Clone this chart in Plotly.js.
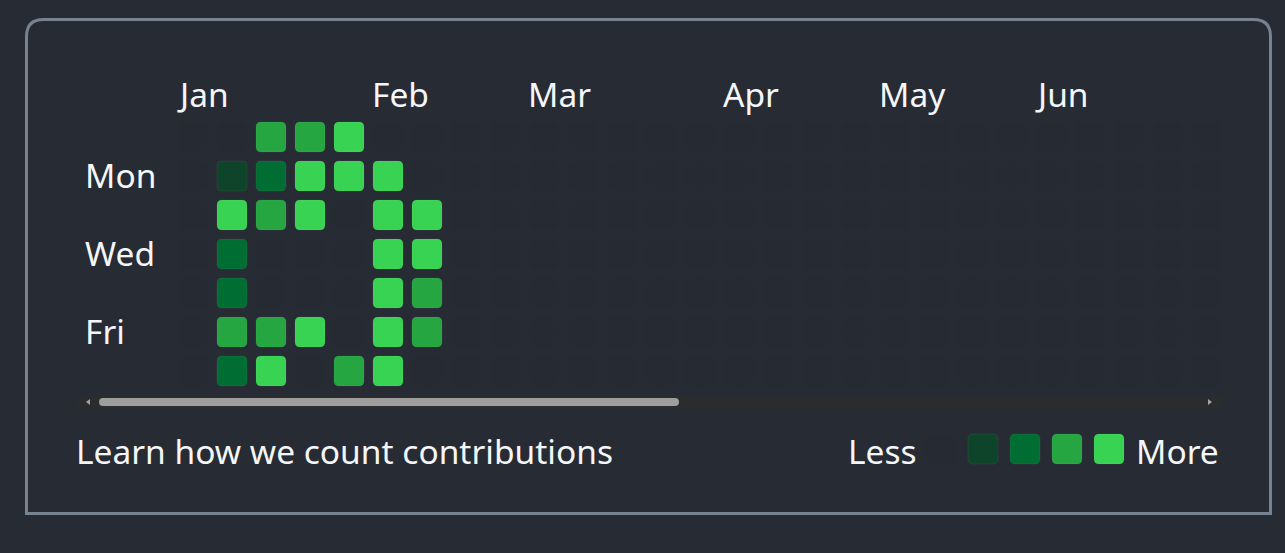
<!DOCTYPE html>
<html>
<head>
<meta charset="utf-8">
<script src="https://cdn.plot.ly/plotly-3.0.1.min.js"></script>
<style>
  html, body { margin: 0; padding: 0; background: #272b34; overflow: hidden; }
  #chart { width: 1285px; height: 553px; }
</style>
</head>
<body>
<div id="chart"></div>
<script>
// ---------------- data ----------------
const weekdays = ['Sun', 'Mon', 'Tue', 'Wed', 'Thu', 'Fri', 'Sat'];
const dayLabels = ['', 'Mon', '', 'Wed', '', 'Fri', ''];
const months = ['Jan', 'Feb', 'Mar', 'Apr', 'May', 'Jun'];
const monthStartWeek = [0, 5, 9, 14, 18, 22];
const weekCount = 27;
// contribution level (0-4) per weekday row, for the first weeks; later weeks are 0
const levelsSun = [0, 0, 3, 3, 4, 0, 0];
const levelsMon = [0, 1, 2, 4, 4, 4, 0];
const levelsTue = [0, 4, 3, 4, 0, 4, 4];
const levelsWed = [0, 2, 0, 0, 0, 4, 4];
const levelsThu = [0, 2, 0, 0, 0, 4, 3];
const levelsFri = [0, 3, 3, 4, 0, 4, 3];
const levelsSat = [0, 2, 4, 0, 3, 4, 0];
const legendLevels = [0, 1, 2, 3, 4];
const levelColors = ['rgba(0,0,0,0.015)', '#0e4429', '#006d32', '#26a641', '#39d353'];

// ---------------- geometry helpers ----------------
const W = 1285, H = 553;
const PITCH = 39;               // px per week / per day
const X0PX = 193, Y0PX = 137;   // pixel centre of week 0 / Sunday
const xRange = [-X0PX / PITCH, (W - X0PX) / PITCH];
const yRange = [(H - Y0PX) / PITCH, -Y0PX / PITCH];
const pxX = p => (p - X0PX) / PITCH;   // pixel -> data
const pxY = p => (p - Y0PX) / PITCH;

function roundRect(x0, y0, x1, y1, r) {
  return 'M' + (x0 + r) + ',' + y0 +
    ' L' + (x1 - r) + ',' + y0 + ' Q' + x1 + ',' + y0 + ' ' + x1 + ',' + (y0 + r) +
    ' L' + x1 + ',' + (y1 - r) + ' Q' + x1 + ',' + y1 + ' ' + (x1 - r) + ',' + y1 +
    ' L' + (x0 + r) + ',' + y1 + ' Q' + x0 + ',' + y1 + ' ' + x0 + ',' + (y1 - r) +
    ' L' + x0 + ',' + (y0 + r) + ' Q' + x0 + ',' + y0 + ' ' + (x0 + r) + ',' + y0 + ' Z';
}

const rows = [levelsSun, levelsMon, levelsTue, levelsWed, levelsThu, levelsFri, levelsSat];
const HALF = 15 / PITCH, RAD = 5 / PITCH;
const shapes = [];
const hx = [], hy = [], ht = [];
const emptyLine = 'rgba(255,255,255,0.012)';
const fullLine = 'rgba(255,255,255,0.06)';

for (let d = 0; d < weekdays.length; d++) {
  for (let w = 0; w < weekCount; w++) {
    const lvl = rows[d][w] || 0;
    shapes.push({
      type: 'path', xref: 'x', yref: 'y', layer: 'above',
      path: roundRect(w - HALF, d - HALF, w + HALF, d + HALF, RAD),
      fillcolor: levelColors[lvl],
      line: { color: lvl ? fullLine : emptyLine, width: 1 }
    });
    hx.push(w); hy.push(d); ht.push(weekdays[d] + ', week ' + (w + 1) + ': level ' + lvl);
  }
}

// legend squares
const LEG_X = [926, 968, 1010, 1052, 1094];
legendLevels.forEach((lvl, i) => {
  shapes.push({
    type: 'path', xref: 'x', yref: 'y', layer: 'above',
    path: roundRect(pxX(LEG_X[i]), pxY(434), pxX(LEG_X[i] + 30), pxY(464), RAD),
    fillcolor: levelColors[lvl],
    line: { color: lvl ? fullLine : emptyLine, width: 1 }
  });
});

// scrollbar track, thumb, arrows
shapes.push({ type: 'rect', xref: 'x', yref: 'y', layer: 'below',
  x0: pxX(78), x1: pxX(1222), y0: pxY(396), y1: pxY(408),
  fillcolor: '#2b2c2e', line: { width: 0 } });
shapes.push({ type: 'path', xref: 'x', yref: 'y', layer: 'above',
  path: roundRect(pxX(99), pxY(398), pxX(679), pxY(406), 4 / PITCH),
  fillcolor: '#9e9e9e', line: { width: 0 } });
shapes.push({ type: 'path', xref: 'x', yref: 'y', layer: 'above',
  path: 'M' + pxX(86) + ',' + pxY(402) + ' L' + pxX(90) + ',' + pxY(399) + ' L' + pxX(90) + ',' + pxY(405) + ' Z',
  fillcolor: '#a3a3a3', line: { width: 0 } });
shapes.push({ type: 'path', xref: 'x', yref: 'y', layer: 'above',
  path: 'M' + pxX(1212) + ',' + pxY(402) + ' L' + pxX(1208) + ',' + pxY(399) + ' L' + pxX(1208) + ',' + pxY(405) + ' Z',
  fillcolor: '#a3a3a3', line: { width: 0 } });

// outer border (rounded top corners)
const bL = 26.5, bR = 1270.5, bT = 19.5, bB = 513.5, bRad = 17;
shapes.push({ type: 'path', xref: 'x', yref: 'y', layer: 'above',
  path: 'M' + pxX(bL) + ',' + pxY(bB) +
    ' L' + pxX(bL) + ',' + pxY(bT + bRad) +
    ' Q' + pxX(bL) + ',' + pxY(bT) + ' ' + pxX(bL + bRad) + ',' + pxY(bT) +
    ' L' + pxX(bR - bRad) + ',' + pxY(bT) +
    ' Q' + pxX(bR) + ',' + pxY(bT) + ' ' + pxX(bR) + ',' + pxY(bT + bRad) +
    ' L' + pxX(bR) + ',' + pxY(bB) + ' Z',
  fillcolor: 'rgba(0,0,0,0)', line: { color: '#778291', width: 3 } });

// ---------------- text ----------------
const FONT = '"Noto Sans", "Open Sans", sans-serif';
const TXT = '#f4f6f8';
const FS = 33.5;
const PADX = 3;   // annotation inner padding compensation (px)
const DY = -1.5;  // vertical nudge (px)
const annotations = [];
months.forEach((m, i) => {
  annotations.push({ x: monthStartWeek[i] - HALF - PADX / PITCH, y: pxY(95 + DY), xref: 'x', yref: 'y',
    text: m, showarrow: false, xanchor: 'left', yanchor: 'middle',
    font: { family: FONT, size: FS, color: TXT } });
});
dayLabels.forEach((d, i) => {
  if (!d) return;
  annotations.push({ x: pxX(86 - PADX), y: i + DY / PITCH, xref: 'x', yref: 'y',
    text: d, showarrow: false, xanchor: 'left', yanchor: 'middle',
    font: { family: FONT, size: FS, color: TXT } });
});
annotations.push({ x: pxX(77 - PADX), y: pxY(452 + DY), xref: 'x', yref: 'y',
  text: 'Learn how we count contributions', showarrow: false, xanchor: 'left', yanchor: 'middle',
  font: { family: FONT, size: FS, color: TXT } });
annotations.push({ x: pxX(849 - PADX), y: pxY(452 + DY), xref: 'x', yref: 'y',
  text: 'Less', showarrow: false, xanchor: 'left', yanchor: 'middle',
  font: { family: FONT, size: FS, color: TXT } });
annotations.push({ x: pxX(1137 - PADX), y: pxY(452 + DY), xref: 'x', yref: 'y',
  text: 'More', showarrow: false, xanchor: 'left', yanchor: 'middle',
  font: { family: FONT, size: FS, color: TXT } });

const traces = [{
  type: 'scatter', mode: 'markers', x: hx, y: hy, text: ht, hoverinfo: 'text',
  marker: { size: 30, symbol: 'square', color: 'rgba(0,0,0,0)' }, showlegend: false
}];

const layout = {
  width: W, height: H,
  margin: { l: 0, r: 0, t: 0, b: 0, pad: 0 },
  paper_bgcolor: '#272b34', plot_bgcolor: '#272b34',
  xaxis: { range: xRange, visible: false, fixedrange: true },
  yaxis: { range: yRange, visible: false, fixedrange: true },
  shapes: shapes, annotations: annotations, showlegend: false
};

Plotly.newPlot('chart', traces, layout, { displayModeBar: false, staticPlot: true });
</script>
</body>
</html>
